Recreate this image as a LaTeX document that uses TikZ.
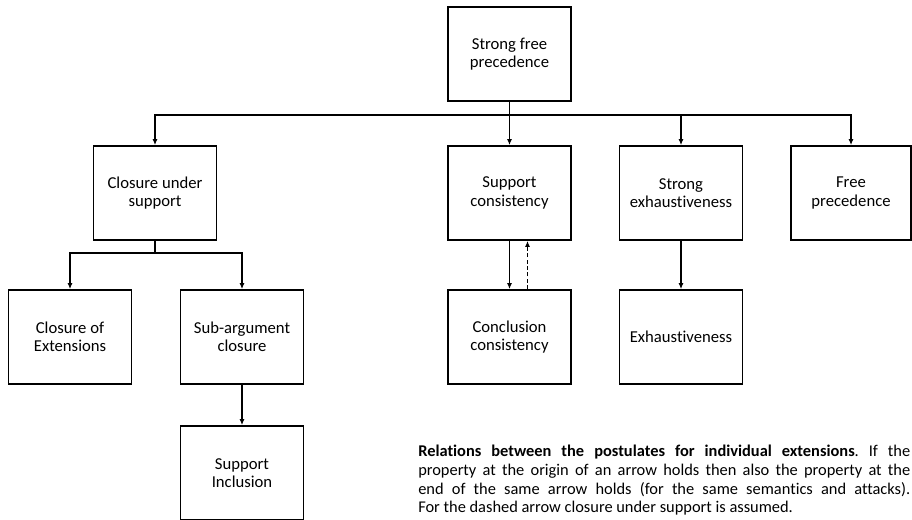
\documentclass[tikz,border=0pt]{standalone}
\usepackage{fontspec}
\setmainfont{Carlito}[Ligatures=NoCommon]
\usetikzlibrary{arrows.meta,positioning,calc}
\frenchspacing

\begin{document}
\begin{tikzpicture}[x=0.75pt,y=-0.75pt,>={Latex[length=4.5pt,width=3.8pt]},
  post/.style={draw,line width=1.3pt,align=center,inner sep=0pt,
    minimum width=92.25pt,minimum height=70.5pt,
    font=\fontsize{12.5}{13.9}\selectfont},
  link/.style={->,line width=1pt}]
  \useasboundingbox (0,0) rectangle (912,520);
  % top of the hierarchy
  \node[post] (sfp) at (509.5,54) {Strong free\\precedence};
  % second row
  \node[post] (cus) at (155,193) {Closure under\\support};
  \node[post] (sc) at (509.5,193) {Support\\consistency};
  \node[post] (se) at (681,193) {Strong\\exhaustiveness};
  \node[post,minimum width=90pt] (fp) at (851,193) {Free\\precedence};
  % third row
  \node[post] (coe) at (70,337) {Closure of\\Extensions};
  \node[post] (sac) at (242,337) {Sub-argument\\closure};
  \node[post] (cc) at (509.5,337) {Conclusion\\consistency};
  \node[post] (ex) at (681,337) {Exhaustiveness};
  % fourth row
  \node[post] (si) at (242,473) {Support\\Inclusion};
  % buses
  \coordinate (bus) at (509.5,115);
  \coordinate (cbus) at (155,253);
  \draw[line width=1pt] (sfp.south) -- (bus);
  \draw[link] (bus) -| (cus.north);
  \draw[link] (bus) -- (sc.north);
  \draw[link] (bus) -| (se.north);
  \draw[link] (bus) -| (fp.north);
  \draw[line width=1pt] (cus.south) -- (cbus);
  \draw[link] (cbus) -| (coe.north);
  \draw[link] (cbus) -| (sac.north);
  \draw[link] (sac) -- (si);
  \draw[link] (sc) -- (cc);
  \draw[link,dash pattern=on 3pt off 1.8pt] ([xshift=13.5pt]cc.north) -- ([xshift=13.5pt]sc.south);
  \draw[link] (se) -- (ex);
  % caption
  \node[anchor=north west,inner sep=0pt,text width=369pt,align=justify,
    font=\fontsize{12.3}{14}\selectfont] (note) at (418,445)
    {\textbf{Relations between the postulates for individual extensions}. If the\linebreak
     property at the origin of an arrow holds then also the property at the\linebreak
     end of the same arrow holds (for the same semantics and attacks).\linebreak
     For the dashed arrow closure under support is assumed.};
\end{tikzpicture}
\end{document}
